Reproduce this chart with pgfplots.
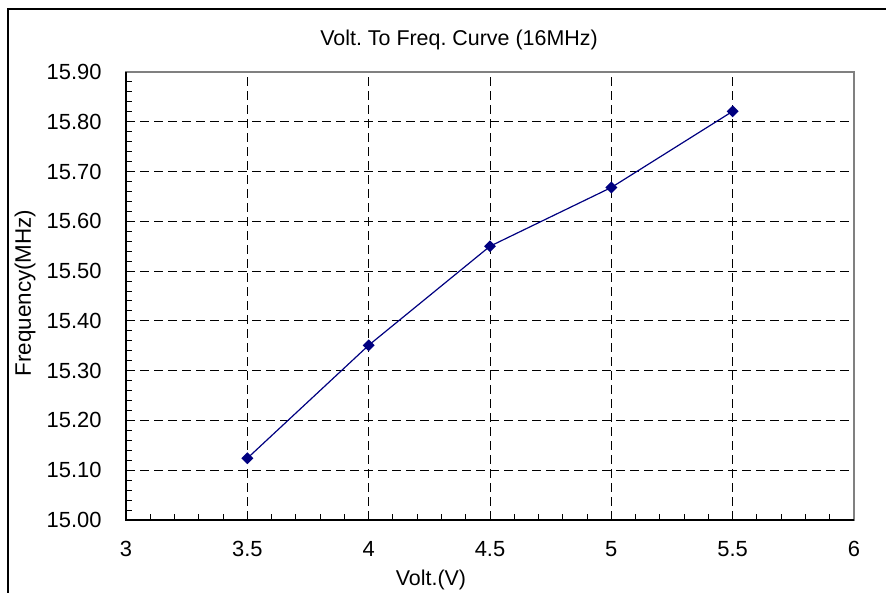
\documentclass[border=0pt]{standalone}
\usepackage{pgfplots}
\pgfplotsset{compat=1.18}
\usepackage{fontspec}
\setmainfont{Liberation Sans}
\frenchspacing
\definecolor{navyline}{HTML}{000080}
\definecolor{framegray}{HTML}{808080}
\begin{document}
\begin{tikzpicture}[x=1bp,y=1bp]
\useasboundingbox (0,0) rectangle (886,593);
\draw[black, line width=1.2bp] (8,0) -- (8,584) -- (886,584);
\begin{axis}[
  at={(126bp,73bp)}, anchor=south west,
  scale only axis, width=728bp, height=448bp,
  xmin=3, xmax=6, ymin=15.0, ymax=15.9,
  xtick={3,3.5,...,6}, ytick={15.0,15.1,...,15.9},
  minor x tick num=4, minor y tick num=4,
  tick align=inside, xtick pos=bottom, ytick pos=left,
  major tick length=0bp, minor tick length=6bp,
  tick style={black, line width=1bp},
  axis line style={framegray, line width=2bp},
  xmajorgrids, ymajorgrids,
  major grid style={black, line width=1bp, dash pattern=on 9bp off 5bp},
  /pgf/number format/assume math mode=true,
  ticklabel style={font=\fontsize{22}{26}\selectfont},
  xticklabel style={yshift=-18bp},
  yticklabel style={/pgf/number format/.cd, fixed, fixed zerofill, precision=2, /tikz/.cd, xshift=-21bp},
  clip=false,
]
\addplot[navyline, line width=1.2bp, mark=square*, mark size=3.6bp,
  mark options={rotate=45, fill=navyline, draw=navyline}]
  coordinates {(3.5,15.124) (4.0,15.351) (4.5,15.550) (5.0,15.668) (5.5,15.821)};
\draw[black, line width=2bp] (rel axis cs:0,1) -- (rel axis cs:0,0) -- (rel axis cs:1,0);
\end{axis}
\node[font=\fontsize{21.5}{26}\selectfont] at (459,553) {Volt. To Freq. Curve (16MHz)};
\node[font=\fontsize{21.5}{26}\selectfont] at (431,13) {Volt.(V)};
\node[font=\fontsize{22.5}{26}\selectfont, rotate=90] at (25,300) {Frequency(MHz)};
\end{tikzpicture}
\end{document}
